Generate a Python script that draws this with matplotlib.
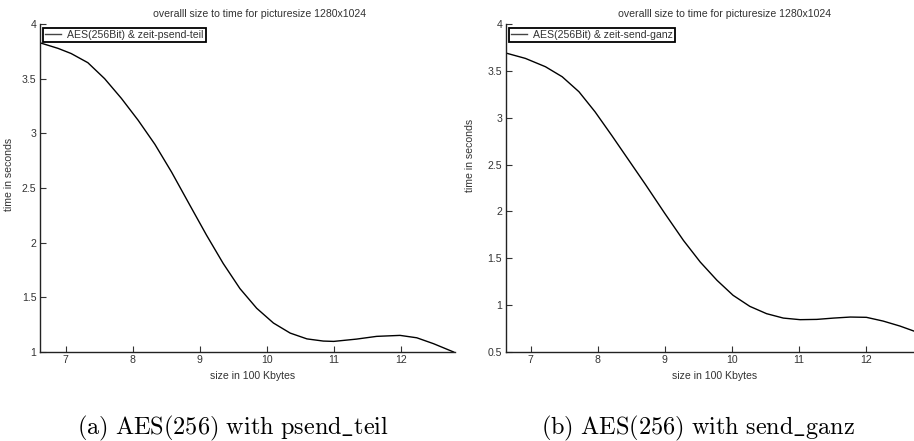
import matplotlib
matplotlib.use("Agg")
import matplotlib.pyplot as plt
from matplotlib.ticker import FormatStrFormatter

# values
size_teil = [6.61, 6.885, 7.08, 7.33, 7.58, 7.83, 8.08, 8.33, 8.58, 8.855,
             9.10, 9.35, 9.60, 9.85, 10.10, 10.35, 10.60, 10.845, 11.0,
             11.34, 11.64, 11.99, 12.24, 12.49, 12.79]
time_teil = [3.829, 3.777, 3.73, 3.646, 3.50, 3.32, 3.12, 2.90, 2.645, 2.34,
             2.07, 1.81, 1.58, 1.40, 1.265, 1.173, 1.12, 1.10, 1.097,
             1.118, 1.143, 1.152, 1.13, 1.076, 1.0]

size_ganz = [6.63, 6.92, 7.22, 7.47, 7.72, 7.96, 8.21, 8.46, 8.71, 9.0,
             9.28, 9.53, 9.78, 10.02, 10.27, 10.52, 10.77, 11.02,
             11.27, 11.52, 11.77, 12.01, 12.26, 12.51, 12.72]
time_ganz = [3.69, 3.633, 3.544, 3.437, 3.277, 3.063, 2.81, 2.55, 2.29, 1.98,
             1.69, 1.46, 1.265, 1.105, 0.987, 0.909, 0.862, 0.845,
             0.848, 0.862, 0.873, 0.87, 0.83, 0.777, 0.723]

xticks = [7, 8, 9, 10, 11, 12]
title = "overalll size to time for picturesize 1280x1024"

plt.rcParams['font.family'] = ['Liberation Sans', 'DejaVu Sans']
plt.rcParams['mathtext.fontset'] = 'cm'
fs = 7.6
txt = '#333333'

fig = plt.figure(figsize=(9.14, 4.41), dpi=100)
ax0 = fig.add_axes([0.0438, 0.2018, 0.454, 0.7438])
ax1 = fig.add_axes([0.5533, 0.2018, 0.4467, 0.7438])

panels = [
    (ax0, size_teil, time_teil, "AES(256Bit) & zeit-psend-teil",
     (6.616, 12.81), (1, 4), [1, 1.5, 2, 2.5, 3, 3.5, 4],
     (-0.063, 0.54), 0.53),
    (ax1, size_ganz, time_ganz, "AES(256Bit) & zeit-send-ganz",
     (6.627, 12.72), (0.5, 4), [0.5, 1, 1.5, 2, 2.5, 3, 3.5, 4],
     (-0.075, 0.598), 0.537),
]

for ax, xs, ys, lab, xl, yl, yt, ylpos, tx in panels:
    ax.plot(xs, ys, color='black', lw=1.0, label=lab,
            solid_joinstyle='round')
    ax.set_xlim(*xl)
    ax.set_ylim(*yl)
    ax.set_xticks(xticks)
    ax.set_yticks(yt)
    ax.yaxis.set_major_formatter(FormatStrFormatter('%g'))
    for s in ['top', 'right']:
        ax.spines[s].set_visible(False)
    for s in ['left', 'bottom']:
        ax.spines[s].set_linewidth(1.0)
        ax.spines[s].set_color('#222222')
    ax.tick_params(direction='in', length=4, width=0.8, colors='#333333',
                   labelsize=fs, labelcolor=txt, pad=2.5)
    ax.set_xlabel("size in 100 Kbytes", fontsize=fs, color=txt)
    ax.xaxis.set_label_coords(0.512, -0.058)
    ax.set_ylabel("time in seconds", fontsize=fs, color=txt)
    ax.yaxis.set_label_coords(*ylpos)
    ax.text(tx, 1.0305, title, transform=ax.transAxes, ha='center',
            va='center', fontsize=fs, color=txt)
    leg = ax.legend(loc='upper left', bbox_to_anchor=(0.0075, 0.988),
                    borderaxespad=0, fontsize=fs, fancybox=False,
                    handlelength=1.5, handletextpad=0.6, borderpad=0.2,
                    framealpha=1)
    leg.get_frame().set_edgecolor('black')
    leg.get_frame().set_linewidth(1.3)
    for t in leg.get_texts():
        t.set_color(txt)
    leg.get_lines()[0].set_color('#444444')

fig.text(233 / 914, 1 - 428 / 441,
         r"$\mathrm{(a)\ AES(256)\ with\ psend\_teil}$",
         ha='center', va='center', fontsize=17.5)
fig.text(698 / 914, 1 - 428 / 441,
         r"$\mathrm{(b)\ AES(256)\ with\ send\_ganz}$",
         ha='center', va='center', fontsize=17.5)

fig.savefig("out.png", dpi=100)
